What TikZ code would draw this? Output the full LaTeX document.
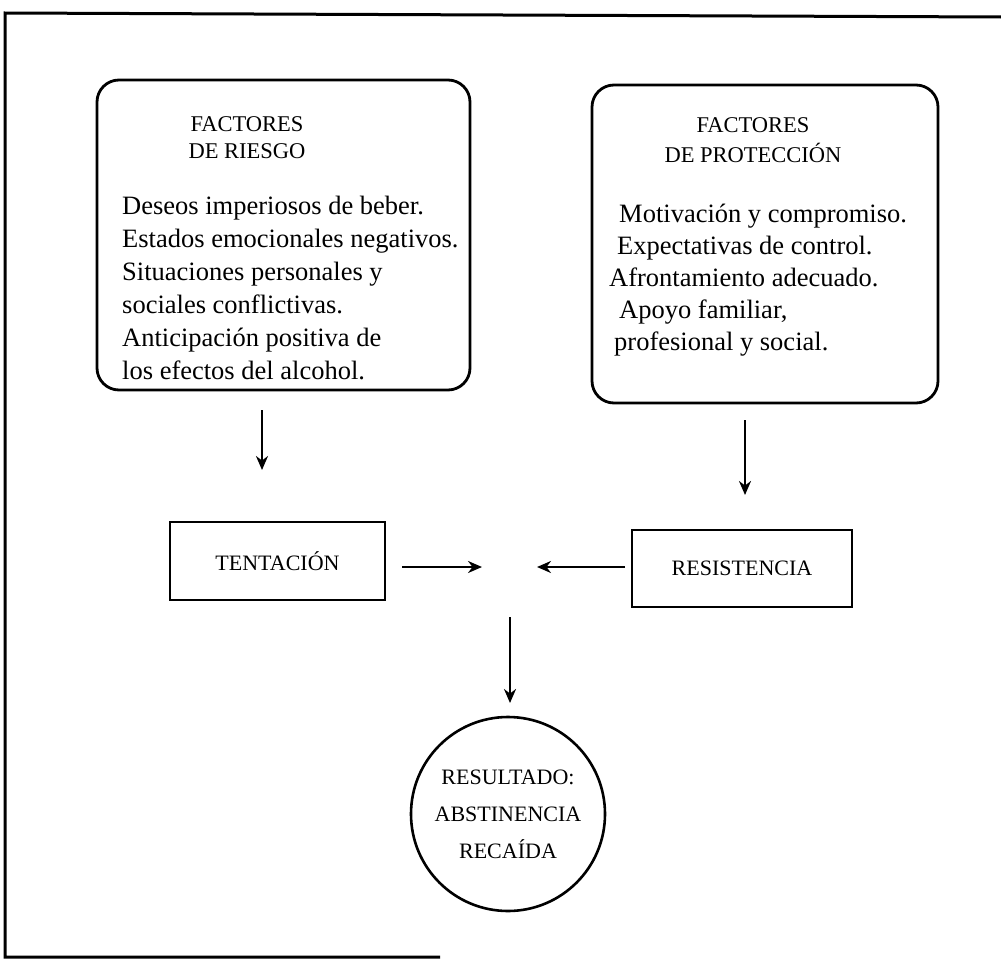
\documentclass[tikz,border=0pt]{standalone}
\usepackage{fontspec}
\setmainfont{Liberation Serif}
\usetikzlibrary{arrows.meta}
\begin{document}
\begin{tikzpicture}[x=1pt,y=-1pt,
  panel/.style={draw, line width=2.8pt, rounded corners=22pt, inner sep=0pt},
  plainbox/.style={draw, line width=2.6pt, inner sep=0pt, font=\fontsize{22}{26}\selectfont},
  arr/.style={line width=2.4pt, -{Stealth[length=14pt,width=12pt]}},
  head/.style={font=\fontsize{22.5}{27}\selectfont, align=center, inner sep=0pt},
  body/.style={font=\fontsize{26.5}{33}\selectfont, align=left, inner sep=0pt, anchor=north west}]
\useasboundingbox (0,0) rectangle (1001,961);

% outer frame (open on the right)
\draw[line width=3pt] (1001,17) -- (5,13) -- (5,957) -- (440,957);

% factor panels
\node[panel, minimum width=373pt, minimum height=310pt] (risk) at (283.5,235) {};
\node[panel, minimum width=346pt, minimum height=318pt] (prot) at (765,244) {};

\node[head] (riskhead) at (247,138) {FACTORES\\DE RIESGO};
\node[body] (risktext) at (122,196) {Deseos imperiosos de beber.\\
Estados emocionales negativos.\\
Situaciones personales y\\
sociales conflictivas.\\
Anticipación positiva de\\
los efectos del alcohol.};

\node[head, font=\fontsize{22.5}{30}\selectfont] (prothead) at (753,140) {FACTORES\\DE PROTECCIÓN};
\node[body, font=\fontsize{26.5}{32}\selectfont] (prottext) at (609,204) {\hspace*{10pt}Motivación y compromiso.\\
\hspace*{8pt}Expectativas de control.\\
Afrontamiento adecuado.\\
\hspace*{10pt}Apoyo familiar,\\
\hspace*{5pt}profesional y social.};

% forces
\node[plainbox, minimum width=215pt, minimum height=78pt] (tent) at (277.5,561) {TENTACIÓN};
\node[plainbox, minimum width=220pt, minimum height=77pt] (resist) at (742,568.5) {RESISTENCIA};

% outcome
\node[draw, circle, line width=2.6pt, minimum size=194pt, inner sep=0pt, align=center,
      font=\fontsize{22}{37}\selectfont] (result) at (508,814) {RESULTADO:\\ABSTINENCIA\\RECAÍDA};

% connector end points
\coordinate (riskout) at (262,410);
\coordinate (tentin) at (262,470);
\coordinate (protout) at (745,420);
\coordinate (resistin) at (745,495);
\coordinate (tentout) at (402,567);
\coordinate (meetl) at (482,567);
\coordinate (resistout) at (625,567);
\coordinate (meetr) at (537,567);
\coordinate (meetdown) at (510,617);
\coordinate (resultin) at (510,703);

\draw[arr] (riskout) -- (tentin);
\draw[arr] (protout) -- (resistin);
\draw[arr] (tentout) -- (meetl);
\draw[arr] (resistout) -- (meetr);
\draw[arr] (meetdown) -- (resultin);
\end{tikzpicture}
\end{document}
